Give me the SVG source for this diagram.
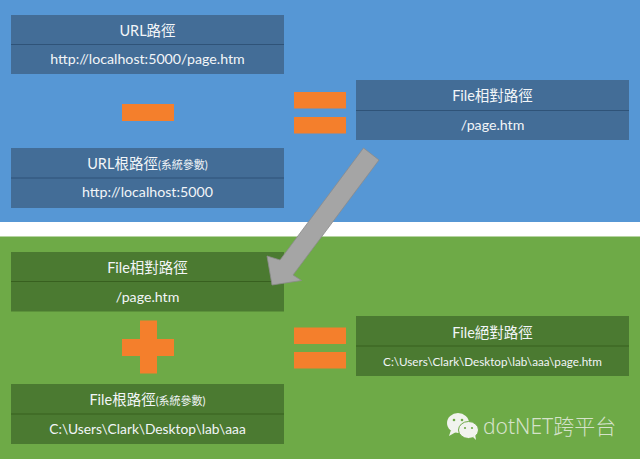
<svg xmlns="http://www.w3.org/2000/svg" width="640" height="459" viewBox="0 0 640 459">
<style>
.cell{stroke:none}
.b{fill:#436d97}
.g{fill:#4b7a31}
.dvb{stroke:#2f5378;stroke-width:1}
.dvg{stroke:#38601f;stroke-width:1}
.op{fill:#f47f2c}
text{font-family:Lato,"Noto Sans CJK TC",sans-serif;fill:#f2f5f8;text-anchor:middle;font-size:14.500px}
.s{font-size:11px}
.v{font-size:14.200px}
.p{font-size:13.800px}
.xs{font-size:11.700px}
</style>
<rect width="640" height="222" fill="#5697d5"/>
<rect y="222" width="640" height="15" fill="#fff"/>
<rect y="236.500" width="640" height="222.500" fill="#6eaa47"/>
<g id="url-path"><rect class="cell b" x="11" y="15" width="273" height="59"/><line class="dvb" x1="11" y1="44.500" x2="284" y2="44.500"/><text x="147.500" y="36">URL路徑</text><text class="v" x="147.500" y="64">http://localhost:5000/page.htm</text></g>
<g id="minus"><rect class="op" x="122" y="104" width="52" height="17"/></g>
<g id="url-root"><rect class="cell b" x="11" y="148" width="273" height="60"/><line class="dvb" x1="11" y1="178" x2="284" y2="178"/><text x="147.500" y="169">URL根路徑<tspan class="s">(系統參數)</tspan></text><text class="v" x="147.500" y="197">http://localhost:5000</text></g>
<g id="equals-top"><rect class="op" x="294" y="92" width="52" height="16.500"/><rect class="op" x="294" y="117" width="52" height="16.500"/></g>
<g id="file-relative-top"><rect class="cell b" x="356" y="80" width="273" height="60"/><line class="dvb" x1="356" y1="110.500" x2="629" y2="110.500"/><text x="492.500" y="101">File相對路徑</text><text class="v" x="492.500" y="130">/page.htm</text></g>
<g id="file-relative"><rect class="cell g" x="11" y="252" width="273" height="59.500"/><line class="dvg" x1="11" y1="281.500" x2="284" y2="281.500"/><text x="147.500" y="273">File相對路徑</text><text class="v" x="147.500" y="302">/page.htm</text></g>
<g id="plus"><path class="op" d="M140 320.500H157V339H174V356H157V373.500H140V356H122V339H140Z"/></g>
<g id="file-root"><rect class="cell g" x="11" y="384" width="273" height="60"/><line class="dvg" x1="11" y1="414" x2="284" y2="414"/><text x="147.500" y="405">File根路徑<tspan class="s">(系統參數)</tspan></text><text class="p" x="147.500" y="434">C:\Users\Clark\Desktop\lab\aaa</text></g>
<g id="equals-bottom"><rect class="op" x="294" y="327.500" width="52" height="16.500"/><rect class="op" x="294" y="352" width="52" height="16.500"/></g>
<g id="file-absolute"><rect class="cell g" x="356" y="316" width="273" height="60"/><line class="dvg" x1="356" y1="346" x2="629" y2="346"/><text x="492.500" y="338">File絕對路徑</text><text class="xs" x="492.500" y="366">C:\Users\Clark\Desktop\lab\aaa\page.htm</text></g>
<g id="connectors"><path d="M363.500 148L379 160L293 275L301.500 280.500L272 285L267 256L280 260Z" fill="#a5a5a5" stroke="#8b8b8b" stroke-width="0.800"/></g>
<g id="watermark">
<ellipse cx="458" cy="423" rx="11" ry="10" fill="#f1f3ee"/><path d="M451 430L449 436L456 432Z" fill="#f1f3ee"/>
<ellipse cx="468.500" cy="430" rx="10" ry="8.500" fill="#f1f3ee" stroke="#6eaa47"/><path d="M473 437L476 440L475 434Z" fill="#f1f3ee"/>
<circle cx="454" cy="420" r="1.300" fill="#6eaa47"/><circle cx="462" cy="420" r="1.300" fill="#6eaa47"/><circle cx="465" cy="428" r="1.100" fill="#6eaa47"/><circle cx="472" cy="428" r="1.100" fill="#6eaa47"/>
<text x="483" y="434" style="text-anchor:start;font-size:21px;font-family:'Noto Sans','Noto Sans CJK TC',sans-serif;font-weight:300;fill:#d5e2ca">dotNET跨平台</text>
</g>
</svg>
